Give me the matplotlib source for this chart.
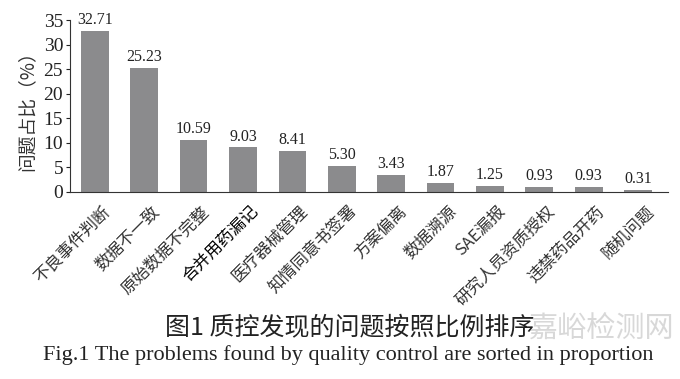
import matplotlib
matplotlib.use("Agg")
import matplotlib.pyplot as plt

# 各类问题占比（%）
categories = ['不良事件判断', '数据不一致', '原始数据不完整', '合并用药漏记', '医疗器械管理',
              '知情同意书签署', '方案偏离', '数据溯源', 'SAE漏报', '研究人员资质授权',
              '违禁药品开药', '随机问题']
values = [32.71, 25.23, 10.59, 9.03, 8.41, 5.30, 3.43, 1.87, 1.25, 0.93, 0.93, 0.31]
yticks = [0, 5, 10, 15, 20, 25, 30, 35]

fonts = ['Liberation Serif', 'Noto Sans CJK SC']
plt.rcParams['font.family'] = fonts

fig = plt.figure(figsize=(6.8, 3.79), dpi=100)
ax = fig.add_axes([0.103, 0.494, 0.879, 0.453])

x = list(range(len(values)))
ax.bar(x, values, width=0.56, color='#8b8b8d')
for xi, v in zip(x, values):
    ax.text(xi, v + 0.6, f'{v:.2f}', ha='center', va='bottom', fontsize=11.5, color='#222222')

ax.set_xlim(-0.5, 11.6)
ax.set_ylim(0, 35)
ax.set_yticks(yticks)
ax.tick_params(axis='y', direction='out', length=3, labelsize=14, colors='#222222', pad=2)
ax.tick_params(axis='x', length=0)
ax.set_xticks(x)
ax.set_xticklabels([])
for xi, c in zip(x, categories):
    ax.annotate(c, xy=(xi, 0), xycoords='data', xytext=(5, -8), textcoords='offset points',
                rotation=45, rotation_mode='anchor', ha='right', va='top',
                fontsize=12, color='#333333' if c != '合并用药漏记' else '#000000',
                family=['Noto Sans CJK SC'])

for s in ['top', 'right']:
    ax.spines[s].set_visible(False)
ax.spines['left'].set_color('#333333')
ax.spines['bottom'].set_color('#333333')
ax.set_ylabel('问题占比（%）', fontsize=13.5, color='#333333', family=['Noto Sans CJK SC'], labelpad=4)

fig.text(0.514, 0.135, '图1 质控发现的问题按照比例排序', ha='center', va='center', fontsize=18,
         color='#222222', family=['Noto Sans CJK SC', 'Liberation Serif'])
fig.text(0.512, 0.063, 'Fig.1 The problems found by quality control are sorted in proportion',
         ha='center', va='center', fontsize=16, color='#222222')
fig.text(0.885, 0.13, '嘉峪检测网', ha='center', va='center', fontsize=21, color='#c8c8c8',
         alpha=0.7, family=['Noto Sans CJK SC'])

fig.savefig('out.png', dpi=100, facecolor='white')
